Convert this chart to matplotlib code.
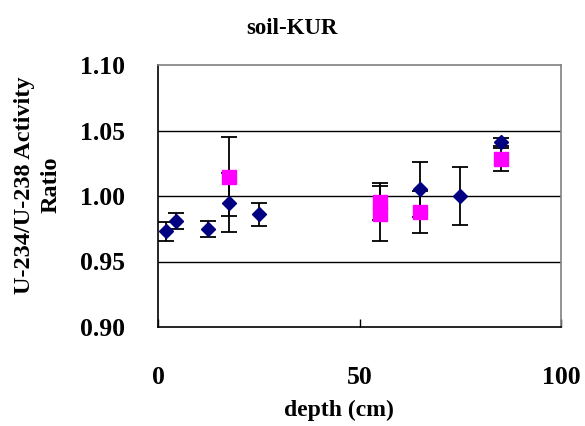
import numpy as np
from matplotlib import pyplot as plt

plt.rcParams['font.family'] = ['Liberation Serif', 'DejaVu Serif']
plt.rcParams['font.weight'] = 'bold'

# series 1 (navy diamonds)
depth_d = [2, 4.5, 12.5, 17.5, 25, 65, 75, 85]
ratio_d = [0.973, 0.981, 0.975, 0.995, 0.986, 1.005, 1.000, 1.041]
err_d = [0.007, 0.006, 0.006, 0.0225, 0.0087, 0.021, 0.022, 0.003]

# series 2 (magenta squares)
depth_s = [17.5, 55, 55, 65, 85]
ratio_s = [1.0147, 0.9958, 0.9866, 0.988, 1.028]
err_s = [0.030, 0.014, 0.021, 0.016, 0.009]

fig = plt.figure(figsize=(5.85, 4.26), dpi=100)
ax = fig.add_axes([158/585, 1-327/426, (561-158)/585, (327-65)/426])

for yv in [0.95, 1.00, 1.05]:
    ax.axhline(yv, color='black', lw=1.0, zorder=1)

ax.errorbar(depth_d, ratio_d, yerr=err_d, fmt='none', ecolor='black',
            elinewidth=1.3, capsize=5.5, capthick=1.3, zorder=2)
ax.errorbar(depth_s, ratio_s, yerr=err_s, fmt='none', ecolor='black',
            elinewidth=1.3, capsize=5.5, capthick=1.3, zorder=2)
ax.plot(depth_d, ratio_d, 'D', color='#000080', ms=7.0, mec='#000080', zorder=3)
ax.plot(depth_s, ratio_s, 's', color='#ff00ff', ms=9.8, mec='#ff00ff', zorder=4)

ax.set_xlim(0, 100)
ax.set_ylim(0.90, 1.10)
ax.set_xticks([0, 50, 100])
ax.set_yticks([0.90, 0.95, 1.00, 1.05, 1.10])
ax.set_yticklabels(['0.90', '0.95', '1.00', '1.05', '1.10'])
ax.tick_params(axis='x', direction='in', length=6, width=1, pad=28, labelsize=18.5)
ax.tick_params(axis='y', direction='in', length=0, width=1, pad=24, labelsize=18.5)

for side in ['top', 'right']:
    ax.spines[side].set_color('#808080')
    ax.spines[side].set_linewidth(1.2)
for side in ['left', 'bottom']:
    ax.spines[side].set_color('black')
    ax.spines[side].set_linewidth(1.2)

fig.text(292/585, 1-28/426, 'soil-KUR', ha='center', va='center', fontsize=16.5, fontweight='bold')
fig.text(339/585, 1-410/426, 'depth (cm)', ha='center', va='center', fontsize=17, fontweight='bold')
fig.text(38/585, 1-185/426, 'U-234/U-238 Activity\nRatio', ha='center', va='center',
         rotation=90, fontsize=17.5, fontweight='bold', linespacing=1.35)

fig.savefig('out.png', dpi=100)
